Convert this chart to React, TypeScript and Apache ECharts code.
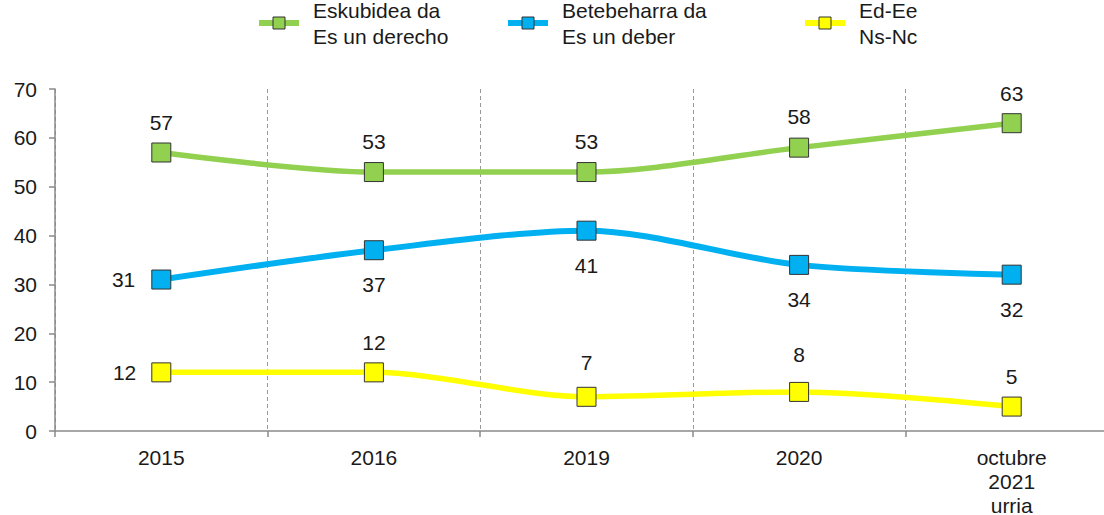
import React, { useEffect, useRef } from "react";
import * as echarts from "echarts";

const categories = ["2015", "2016", "2019", "2020", "octubre\n2021\nurria"];
const seriesNames = ["Eskubidea da\nEs un derecho", "Betebeharra da\nEs un deber", "Ed-Ee\nNs-Nc"];
const derechoValues = [57, 53, 53, 58, 63];
const deberValues = [31, 37, 41, 34, 32];
const nsncValues = [12, 12, 7, 8, 5];
const colors = ["#92D050", "#00B0F0", "#FFFF00"];

// label placement per point: [position, distance]
const derechoLabels: [string, number][] = [["top", 10], ["top", 10], ["top", 10], ["top", 10.5], ["top", 9]];
const deberLabels: [string, number][] = [["left", 16], ["bottom", 13.5], ["bottom", 14.5], ["bottom", 14], ["bottom", 14]];
const nsncLabels: [string, number][] = [["left", 15], ["top", 9.5], ["top", 13.5], ["top", 16.5], ["top", 10]];

const FONT = "'Liberation Sans', Arial, sans-serif";
const FS = 21;

function buildData(values: number[], labels: [string, number][]) {
  return values.map((v, i) => ({
    value: v,
    label: { position: labels[i][0], distance: labels[i][1] },
  }));
}

export default function App() {
  const ref = useRef<HTMLDivElement>(null);
  useEffect(() => {
    document.body.style.margin = "0";
    const chart = echarts.init(ref.current!, undefined, { renderer: "svg" });
    const legendLefts = [256, 505, 802];
    const legends = seriesNames.map((n, i) => ({
      data: [n],
      left: legendLefts[i],
      top: -16,
      padding: 0,
      itemWidth: 40,
      itemHeight: 15,
      selectedMode: false,
      lineStyle: { width: 6 },
      itemStyle: { borderColor: "#333333", borderWidth: 1 },
      textStyle: {
        fontFamily: FONT,
        fontSize: FS,
        color: "#1a1a1a",
        lineHeight: 26,
        padding: [26, 0, 0, 9],
      },
    }));
    const mk = (name: string, values: number[], labels: [string, number][], color: string, width: number) => ({
      type: "line",
      name,
      data: buildData(values, labels),
      smooth: 0.3,
      symbol: "rect",
      symbolSize: 19,
      lineStyle: { color, width },
      itemStyle: { color, borderColor: "#333333", borderWidth: 1 },
      label: {
        show: true,
        fontFamily: FONT,
        fontSize: FS,
        color: "#1a1a1a",
      },
    });
    chart.setOption({
      animation: false,
      legend: legends,
      grid: { left: 55, right: -14, top: 89, bottom: 84, containLabel: false, outerBoundsMode: "none" },
      xAxis: {
        type: "category",
        data: categories,
        boundaryGap: true,
        axisLine: { show: true, lineStyle: { color: "#8a8a8a", width: 1.5 } },
        axisTick: { show: true, length: 6, lineStyle: { color: "#8a8a8a", width: 1.5 } },
        axisLabel: {
          fontFamily: FONT,
          fontSize: FS,
          color: "#1a1a1a",
          lineHeight: 24,
          margin: 14,
          interval: 0,
        },
        splitLine: { show: true, lineStyle: { color: "#999999", width: 1, type: [4, 3] } },
      },
      yAxis: {
        type: "value",
        min: 0,
        max: 70,
        interval: 10,
        axisLine: { show: true, lineStyle: { color: "#8a8a8a", width: 1.5 } },
        axisTick: { show: true, length: 6, lineStyle: { color: "#8a8a8a", width: 1.5 } },
        axisLabel: { fontFamily: FONT, fontSize: FS, color: "#1a1a1a", margin: 18 },
        splitLine: { show: false },
      },
      series: [
        mk(seriesNames[0], derechoValues, derechoLabels, colors[0], 5.5),
        mk(seriesNames[1], deberValues, deberLabels, colors[1], 6),
        mk(seriesNames[2], nsncValues, nsncLabels, colors[2], 5.5),
      ],
    });
    return () => chart.dispose();
  }, []);
  return <div ref={ref} style={{ width: 1104, height: 515 }} />;
}
